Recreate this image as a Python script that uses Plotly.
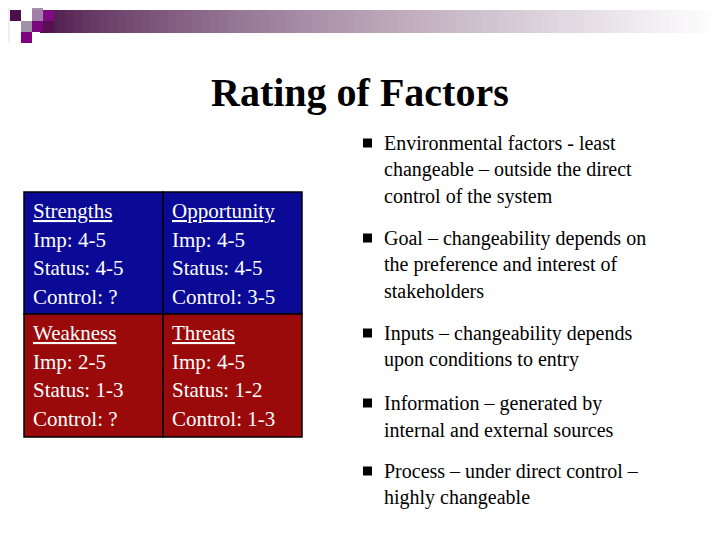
import plotly.graph_objects as go

title = "Rating of Factors"
cell_titles = [["Strengths", "Opportunity"], ["Weakness", "Threats"]]
cell_lines = [
    [["Imp: 4-5", "Status: 4-5", "Control: ?"], ["Imp: 4-5", "Status: 4-5", "Control: 3-5"]],
    [["Imp: 2-5", "Status: 1-3", "Control: ?"], ["Imp: 4-5", "Status: 1-2", "Control: 1-3"]],
]
row_colors = ["#0a0a96", "#9a0a0a"]
bullets = [
    ["Environmental factors - least", "changeable – outside the direct", "control of the system"],
    ["Goal – changeability depends on", "the preference and interest of", "stakeholders"],
    ["Inputs – changeability depends", "upon conditions to entry"],
    ["Information – generated by", "internal and external sources"],
    ["Process – under direct control –", "highly changeable"],
]
bullet_y = [143, 238, 333, 403, 471]

FONT = "Liberation Serif, Times New Roman, serif"
shapes, ann = [], []

# header decoration: gradient bar
n = 80
x0, x1 = 40, 720
c0 = (74, 20, 72)
for i in range(n):
    t = (i / (n - 1)) ** 0.7
    c = tuple(int(c0[k] + (255 - c0[k]) * t) for k in range(3))
    xa = x0 + (x1 - x0) * i / n
    xb = x0 + (x1 - x0) * (i + 1) / n + 0.5
    shapes.append(dict(type="rect", x0=xa, x1=xb, y0=10, y1=33, line_width=0,
                       fillcolor="rgb(%d,%d,%d)" % c, layer="below"))
for i in range(10):
    t = i / 9
    v = int(170 + 85 * t)
    shapes.append(dict(type="rect", x0=i, x1=i + 1.1, y0=0, y1=43, line_width=0,
                       fillcolor="rgb(%d,%d,%d)" % (v, v - 15, v), layer="below"))
squares = [(32, 0, "#a890a8"), (10, 10, "#4b1048"), (32, 10, "#a080a8"), (43, 10, "#800a80"),
           (21, 21, "#a090a8"), (32, 21, "#7a087a"), (43, 21, "#5a1050"), (21, 32, "#800080")]
for sx, sy, col in squares:
    shapes.append(dict(type="rect", x0=sx, x1=sx + 11, y0=sy, y1=sy + 11, line_width=0, fillcolor=col))

ann.append(dict(x=360, y=92, text="<b>" + title + "</b>", showarrow=False,
                font=dict(family=FONT, size=40, color="black"), xanchor="center", yanchor="middle"))

col_x = [24, 163, 302]
row_y = [192, 314, 437]
for r in range(2):
    for c in range(2):
        shapes.append(dict(type="rect", x0=col_x[c], x1=col_x[c + 1], y0=row_y[r], y1=row_y[r + 1],
                           fillcolor=row_colors[r], line=dict(color="black", width=1.5)))
        lines = ["<u>" + cell_titles[r][c] + "</u>"] + cell_lines[r][c]
        for j, s in enumerate(lines):
            ann.append(dict(x=col_x[c] + 7, y=row_y[r] + 19 + j * 28.5, text=s, showarrow=False,
                            font=dict(family=FONT, size=21, color="white"),
                            xanchor="left", yanchor="middle"))

for b, y in zip(bullets, bullet_y):
    shapes.append(dict(type="rect", x0=363, x1=372, y0=y - 4.5, y1=y + 4.5, fillcolor="black", line_width=0))
    for j, s in enumerate(b):
        ann.append(dict(x=382, y=y + j * 26.5, text=s, showarrow=False,
                        font=dict(family=FONT, size=20, color="black"),
                        xanchor="left", yanchor="middle"))

fig = go.Figure()
fig.update_layout(width=720, height=540, margin=dict(l=0, r=0, t=0, b=0),
                  paper_bgcolor="white", plot_bgcolor="white", shapes=shapes, annotations=ann,
                  xaxis=dict(range=[8, 728], visible=False, fixedrange=True),
                  yaxis=dict(range=[548, 8], visible=False, fixedrange=True),
                  showlegend=False)
fig.write_html("out.html")
